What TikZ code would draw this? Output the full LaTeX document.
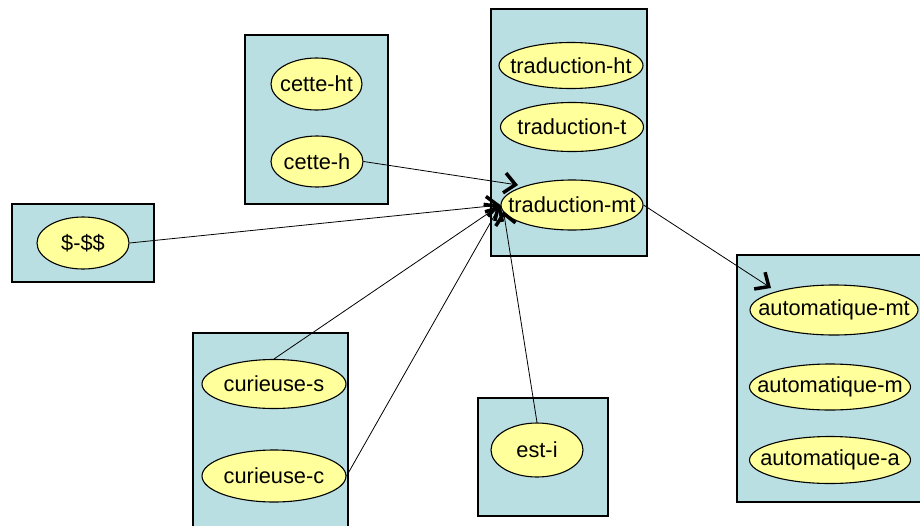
\documentclass[tikz,border=0pt]{standalone}
\usepackage{fontspec}
\setmainfont{Liberation Sans}
\usetikzlibrary{arrows.meta,calc,shapes.geometric}
\definecolor{boxfill}{RGB}{186,223,227}
\definecolor{ellfill}{RGB}{255,255,155}
\begin{document}
\begin{tikzpicture}[x=1pt,y=-1pt,
  grp/.style={rectangle, draw=black, fill=boxfill, line width=1.3pt, inner sep=0pt},
  ell/.style={ellipse, draw=black, fill=ellfill, line width=1.1pt, inner sep=0pt,
              font=\fontsize{21.8}{24}\selectfont},
  conn/.style={line width=0.8pt, -{Straight Barb[length=11pt,width=20pt,line width=3.5pt]}}]
\newcommand\zw[1]{\makebox[0pt]{#1}}
\useasboundingbox (0,0) rectangle (920,525);
% group boxes
\node[grp, minimum width=143, minimum height=169] (gcette) at (316.5,119.5) {};
\node[grp, minimum width=156, minimum height=247] (gtrad) at (569,132.5) {};
\node[grp, minimum width=142, minimum height=78] (gdollar) at (83,243) {};
\node[grp, minimum width=155, minimum height=207] (gcur) at (270.5,436.5) {};
\node[grp, minimum width=130, minimum height=118] (gest) at (543,457) {};
\node[grp, minimum width=198, minimum height=247] (gauto) at (836,378.5) {};
% ellipses
\node[ell, minimum width=91, minimum height=52] (cht) at (316.5,84) {\zw{cette-ht}};
\node[ell, minimum width=92, minimum height=51] (ch) at (317,161.5) {\zw{cette-h}};
\node[ell, minimum width=144, minimum height=46] (tht) at (571,65.5) {\zw{traduction-ht}};
\node[ell, minimum width=143, minimum height=49] (tt) at (572,127) {\zw{traduction-t}};
\node[ell, minimum width=142, minimum height=50] (tmt) at (572,205) {\zw{traduction-mt}};
\node[ell, minimum width=92, minimum height=52] (dol) at (83,243) {\zw{\$-\$\$}};
\node[ell, minimum width=144, minimum height=49] (cs) at (274,384) {\zw{curieuse-s}};
\node[ell, minimum width=144, minimum height=52] (cc) at (274,476) {\zw{curieuse-c}};
\node[ell, minimum width=92, minimum height=54] (ei) at (537,450) {\zw{est-i}};
\node[ell, minimum width=168, minimum height=50] (amt) at (834,310) {\zw{automatique-mt}};
\node[ell, minimum width=161, minimum height=46] (am) at (830,387) {\zw{automatique-m}};
\node[ell, minimum width=161, minimum height=47] (aa) at (830,460) {\zw{automatique-a}};
% connectors
\draw[conn] (ch.east) -- ($(tmt.center)+(-54,-20)$);
\draw[conn] (dol.east) -- (tmt.west);
\draw[conn] (cs.north) -- (tmt.west);
\draw[conn] (cc.east) -- (tmt.west);
\draw[conn] (ei.north) -- ($(tmt.west)+(3,6)$);
\draw[conn] (tmt.east) -- ($(amt.center)+(-63,-22)$);
\end{tikzpicture}
\end{document}
